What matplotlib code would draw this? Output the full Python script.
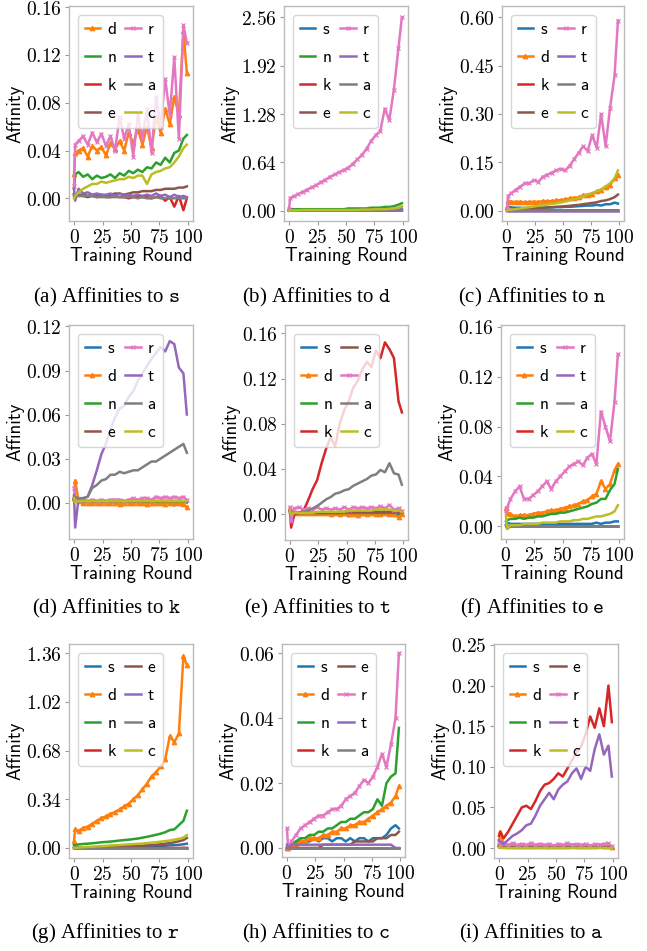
import matplotlib
matplotlib.use("Agg")
import matplotlib.pyplot as plt
from matplotlib.ticker import FixedLocator, FuncFormatter

plt.rcParams["mathtext.fontset"] = "cm"

rounds = [0, 1, 4, 8, 12, 16, 20, 24, 28, 32, 36, 40, 44, 48, 52, 56, 60, 64, 68, 72, 76, 80, 84, 88, 92, 96, 99]

# (a) affinities to s
to_s_d = [0.020, 0.038, 0.040, 0.042, 0.035, 0.044, 0.040, 0.043, 0.036, 0.046, 0.041, 0.048, 0.040, 0.055, 0.046, 0.058, 0.045, 0.060, 0.042, 0.068, 0.055, 0.075, 0.062, 0.085, 0.070, 0.140, 0.105]
to_s_n = [0.008, 0.020, 0.022, 0.018, 0.020, 0.016, 0.019, 0.017, 0.018, 0.020, 0.017, 0.021, 0.019, 0.023, 0.021, 0.024, 0.022, 0.026, 0.025, 0.030, 0.028, 0.034, 0.030, 0.038, 0.040, 0.050, 0.053]
to_s_k = [0.002, 0.003, 0.002, 0.002, 0.001, 0.002, 0.001, 0.002, 0.001, 0.001, 0.002, 0.001, 0.001, 0.000, 0.001, 0.002, 0.001, 0.001, 0.000, 0.001, 0.002, -0.002, 0.001, -0.007, 0.002, -0.010, 0.000]
to_s_e = [0.004, 0.003, 0.003, 0.003, 0.002, 0.003, 0.003, 0.003, 0.002, 0.003, 0.004, 0.004, 0.003, 0.004, 0.005, 0.005, 0.006, 0.006, 0.006, 0.007, 0.007, 0.008, 0.008, 0.008, 0.009, 0.009, 0.010]
to_s_r = [0.010, 0.045, 0.048, 0.052, 0.045, 0.055, 0.047, 0.054, 0.044, 0.052, 0.040, 0.068, 0.050, 0.062, 0.035, 0.070, 0.050, 0.075, 0.038, 0.085, 0.060, 0.100, 0.070, 0.118, 0.050, 0.145, 0.130]
to_s_t = [0.008, -0.002, 0.008, 0.004, 0.005, 0.003, 0.004, 0.003, 0.003, 0.004, 0.002, 0.004, 0.002, 0.003, 0.002, 0.003, 0.002, 0.003, 0.002, 0.004, 0.002, 0.003, 0.001, 0.003, 0.001, 0.002, 0.001]
to_s_a = [0.003, 0.002, 0.002, 0.002, 0.002, 0.002, 0.001, 0.001, 0.001, 0.001, 0.001, 0.001, 0.001, 0.001, 0.001, 0.000, 0.001, 0.000, 0.000, 0.001, 0.000, 0.000, 0.000, 0.000, 0.000, 0.000, 0.000]
to_s_c = [0.000, 0.002, 0.005, 0.008, 0.010, 0.012, 0.012, 0.014, 0.013, 0.014, 0.015, 0.016, 0.016, 0.018, 0.017, 0.019, 0.019, 0.012, 0.020, 0.022, 0.023, 0.025, 0.026, 0.030, 0.035, 0.042, 0.045]

# (b) affinities to d
to_d_s = [0.000, 0.005, 0.005, 0.005, 0.005, 0.005, 0.005, 0.005, 0.005, 0.005, 0.005, 0.005, 0.005, 0.005, 0.005, 0.005, 0.006, 0.006, 0.006, 0.007, 0.007, 0.008, 0.008, 0.009, 0.010, 0.012, 0.015]
to_d_n = [0.010, 0.020, 0.020, 0.020, 0.020, 0.020, 0.020, 0.020, 0.020, 0.020, 0.020, 0.020, 0.020, 0.020, 0.030, 0.030, 0.030, 0.030, 0.030, 0.040, 0.040, 0.040, 0.050, 0.050, 0.060, 0.080, 0.100]
to_d_k = [0.000, 0.001, 0.001, 0.001, 0.001, 0.001, 0.001, 0.001, 0.001, 0.001, 0.001, 0.001, 0.001, 0.001, 0.001, 0.001, 0.001, 0.001, 0.001, 0.001, 0.001, 0.001, 0.001, 0.001, 0.002, 0.002, 0.002]
to_d_e = [0.000, 0.001, 0.001, 0.001, 0.001, 0.001, 0.001, 0.001, 0.001, 0.001, 0.002, 0.002, 0.002, 0.002, 0.002, 0.002, 0.002, 0.003, 0.003, 0.003, 0.003, 0.004, 0.004, 0.005, 0.005, 0.006, 0.008]
to_d_r = [0.020, 0.170, 0.190, 0.220, 0.250, 0.280, 0.310, 0.340, 0.380, 0.410, 0.450, 0.480, 0.510, 0.540, 0.570, 0.620, 0.680, 0.740, 0.820, 0.920, 1.000, 1.050, 1.350, 1.200, 1.600, 2.150, 2.560]
to_d_t = [0.000, 0.000, 0.000, 0.000, 0.000, 0.000, 0.000, 0.000, 0.000, 0.000, 0.000, 0.000, 0.000, 0.000, 0.000, 0.000, 0.000, 0.000, 0.000, 0.000, 0.000, 0.000, 0.000, 0.000, 0.000, 0.001, 0.001]
to_d_a = [0.000, 0.002, 0.002, 0.003, 0.003, 0.003, 0.004, 0.004, 0.004, 0.005, 0.005, 0.005, 0.006, 0.006, 0.007, 0.007, 0.008, 0.009, 0.010, 0.011, 0.012, 0.013, 0.015, 0.017, 0.020, 0.025, 0.030]
to_d_c = [0.000, 0.005, 0.005, 0.005, 0.010, 0.010, 0.010, 0.010, 0.010, 0.010, 0.010, 0.010, 0.010, 0.010, 0.010, 0.010, 0.010, 0.015, 0.015, 0.015, 0.020, 0.020, 0.020, 0.025, 0.030, 0.040, 0.060]

# (c) affinities to n
to_n_s = [0.005, 0.012, 0.010, 0.009, 0.009, 0.008, 0.009, 0.008, 0.009, 0.009, 0.010, 0.010, 0.011, 0.011, 0.012, 0.012, 0.013, 0.014, 0.015, 0.016, 0.016, 0.018, 0.016, 0.020, 0.020, 0.025, 0.022]
to_n_d = [0.010, 0.030, 0.028, 0.027, 0.028, 0.026, 0.027, 0.028, 0.027, 0.030, 0.029, 0.030, 0.032, 0.033, 0.035, 0.038, 0.040, 0.042, 0.048, 0.050, 0.052, 0.060, 0.065, 0.075, 0.080, 0.100, 0.110]
to_n_k = [0.000, 0.001, 0.001, 0.001, 0.001, 0.001, 0.001, 0.001, 0.001, 0.001, 0.001, 0.001, 0.001, 0.001, 0.001, 0.001, 0.001, 0.001, 0.001, 0.001, 0.001, 0.001, 0.001, 0.001, 0.001, 0.001, 0.001]
to_n_e = [0.000, 0.001, 0.002, 0.003, 0.004, 0.005, 0.006, 0.007, 0.008, 0.009, 0.010, 0.011, 0.012, 0.013, 0.014, 0.015, 0.017, 0.018, 0.020, 0.022, 0.024, 0.026, 0.030, 0.032, 0.036, 0.042, 0.050]
to_n_r = [0.005, 0.045, 0.055, 0.065, 0.075, 0.085, 0.085, 0.095, 0.090, 0.105, 0.112, 0.118, 0.125, 0.130, 0.125, 0.140, 0.160, 0.180, 0.200, 0.185, 0.235, 0.195, 0.300, 0.200, 0.320, 0.420, 0.590]
to_n_t = [0.000, 0.000, 0.000, 0.000, 0.000, 0.000, 0.000, 0.000, 0.000, 0.000, 0.000, 0.000, 0.000, 0.000, 0.000, 0.000, 0.000, 0.000, 0.000, 0.000, 0.000, 0.000, 0.000, 0.000, 0.000, 0.000, 0.000]
to_n_a = [0.001, 0.001, 0.001, 0.001, 0.001, 0.001, 0.001, 0.001, 0.001, 0.001, 0.001, 0.001, 0.001, 0.001, 0.001, 0.001, 0.001, 0.001, 0.001, 0.001, 0.001, 0.001, 0.001, 0.001, 0.001, 0.001, 0.001]
to_n_c = [0.000, 0.002, 0.003, 0.005, 0.007, 0.009, 0.011, 0.013, 0.015, 0.017, 0.019, 0.021, 0.023, 0.026, 0.029, 0.032, 0.036, 0.040, 0.045, 0.050, 0.055, 0.060, 0.066, 0.075, 0.085, 0.100, 0.125]

# (d) affinities to k
to_k_s = [0.002, 0.001, 0.001, 0.001, 0.001, 0.001, 0.001, 0.001, 0.001, 0.001, 0.001, 0.001, 0.001, 0.001, 0.001, 0.001, 0.001, -0.001, 0.001, 0.001, -0.001, 0.001, 0.001, -0.002, 0.001, 0.001, 0.000]
to_k_d = [0.003, 0.015, 0.001, 0.000, 0.000, 0.000, 0.000, 0.000, 0.000, 0.000, 0.000, -0.001, 0.000, 0.000, 0.000, 0.000, 0.000, -0.001, 0.000, 0.000, 0.000, -0.001, 0.000, 0.000, 0.000, -0.001, -0.003]
to_k_n = [0.003, 0.001, 0.001, 0.001, 0.001, 0.001, 0.001, 0.001, 0.001, 0.001, 0.001, 0.001, 0.001, 0.001, 0.001, 0.001, 0.001, 0.001, 0.001, 0.001, 0.001, 0.001, 0.001, 0.001, 0.001, 0.001, 0.001]
to_k_e = [0.002, 0.001, 0.001, 0.001, 0.001, 0.001, 0.001, 0.001, 0.001, 0.001, 0.001, 0.001, 0.001, 0.001, 0.001, 0.001, 0.001, 0.001, 0.001, 0.001, 0.001, 0.001, 0.001, 0.001, 0.001, 0.001, 0.001]
to_k_r = [0.010, 0.003, 0.001, 0.002, 0.001, 0.002, 0.001, 0.002, 0.001, 0.002, 0.002, 0.002, 0.001, 0.002, 0.003, 0.002, 0.003, 0.003, 0.002, 0.004, 0.003, 0.004, 0.003, 0.004, 0.003, 0.004, 0.002]
to_k_t = [0.005, -0.017, 0.003, 0.003, 0.004, 0.012, 0.022, 0.033, 0.040, 0.050, 0.058, 0.064, 0.066, 0.072, 0.076, 0.083, 0.088, 0.093, 0.098, 0.102, 0.106, 0.103, 0.110, 0.108, 0.092, 0.088, 0.060]
to_k_a = [0.003, 0.004, 0.003, 0.003, 0.004, 0.010, 0.012, 0.015, 0.016, 0.019, 0.019, 0.021, 0.020, 0.021, 0.022, 0.022, 0.024, 0.026, 0.028, 0.028, 0.030, 0.032, 0.034, 0.036, 0.038, 0.040, 0.034]
to_k_c = [0.003, 0.000, 0.001, 0.001, 0.001, 0.001, 0.001, 0.001, 0.001, 0.001, 0.001, 0.001, 0.001, 0.001, 0.001, 0.001, 0.001, 0.001, 0.001, 0.001, 0.001, 0.001, 0.001, 0.001, 0.001, 0.001, 0.001]

# (e) affinities to t
to_t_s = [0.002, 0.000, 0.000, 0.000, 0.000, 0.000, 0.000, 0.000, 0.000, 0.000, 0.000, 0.000, -0.001, 0.000, -0.002, 0.000, 0.000, -0.001, 0.000, 0.000, 0.000, -0.001, 0.000, 0.000, 0.000, -0.001, 0.000]
to_t_d = [0.005, 0.002, 0.001, 0.001, 0.001, 0.001, 0.001, 0.001, 0.001, 0.001, 0.000, 0.001, 0.000, 0.001, 0.000, 0.000, -0.001, 0.001, 0.000, 0.001, 0.000, 0.000, 0.001, 0.000, 0.000, -0.003, 0.000]
to_t_n = [0.003, 0.001, 0.001, 0.001, 0.001, 0.001, 0.001, 0.001, 0.001, 0.001, 0.001, 0.001, 0.001, 0.001, 0.001, 0.001, 0.001, 0.001, 0.001, 0.001, 0.001, 0.001, 0.001, 0.001, 0.001, 0.001, 0.001]
to_t_k = [0.003, -0.012, 0.000, 0.001, 0.003, 0.012, 0.022, 0.030, 0.045, 0.058, 0.068, 0.060, 0.080, 0.092, 0.100, 0.112, 0.118, 0.128, 0.135, 0.130, 0.145, 0.138, 0.152, 0.146, 0.138, 0.100, 0.090]
to_t_e = [0.002, 0.001, 0.001, 0.001, 0.001, 0.001, 0.001, 0.001, 0.001, 0.001, 0.001, 0.001, 0.001, 0.002, 0.002, 0.002, 0.002, 0.002, 0.002, 0.002, 0.002, 0.002, 0.002, 0.002, 0.002, 0.002, 0.002]
to_t_r = [0.006, -0.006, 0.005, 0.006, 0.004, 0.005, 0.004, 0.006, 0.004, 0.005, 0.004, 0.005, 0.004, 0.006, 0.004, 0.006, 0.005, 0.006, 0.005, 0.006, 0.005, 0.007, 0.005, 0.008, 0.004, 0.005, 0.003]
to_t_a = [0.001, 0.001, 0.001, 0.001, 0.002, 0.003, 0.005, 0.007, 0.010, 0.013, 0.015, 0.018, 0.019, 0.021, 0.022, 0.025, 0.027, 0.029, 0.031, 0.034, 0.035, 0.039, 0.037, 0.045, 0.036, 0.035, 0.026]
to_t_c = [0.002, 0.000, 0.001, 0.001, 0.001, 0.001, 0.001, 0.002, 0.002, 0.002, 0.002, 0.002, 0.002, 0.002, 0.003, 0.003, 0.003, 0.003, 0.003, 0.003, 0.004, 0.004, 0.004, 0.004, 0.003, 0.003, 0.002]

# (f) affinities to e
to_e_s = [0.001, 0.003, 0.002, 0.002, 0.002, 0.002, 0.002, 0.002, 0.002, 0.002, 0.002, 0.002, 0.002, 0.002, 0.002, 0.002, 0.002, 0.002, 0.002, 0.002, 0.002, 0.003, 0.002, 0.003, 0.003, 0.004, 0.004]
to_e_d = [0.015, 0.011, 0.010, 0.008, 0.009, 0.009, 0.009, 0.010, 0.011, 0.011, 0.012, 0.013, 0.013, 0.014, 0.015, 0.016, 0.017, 0.018, 0.020, 0.021, 0.024, 0.026, 0.036, 0.030, 0.034, 0.045, 0.050]
to_e_n = [0.004, 0.005, 0.006, 0.006, 0.007, 0.006, 0.007, 0.007, 0.008, 0.008, 0.009, 0.010, 0.010, 0.011, 0.011, 0.012, 0.013, 0.014, 0.015, 0.016, 0.018, 0.019, 0.022, 0.022, 0.029, 0.034, 0.046]
to_e_k = [0.000, 0.000, 0.000, 0.000, 0.000, 0.000, 0.000, 0.000, 0.000, 0.000, 0.000, 0.000, 0.000, 0.000, 0.000, 0.000, 0.000, 0.000, 0.000, 0.000, 0.000, 0.000, 0.000, 0.000, 0.000, 0.000, 0.000]
to_e_r = [0.012, 0.015, 0.022, 0.028, 0.032, 0.022, 0.022, 0.025, 0.028, 0.032, 0.036, 0.030, 0.036, 0.040, 0.044, 0.048, 0.050, 0.052, 0.049, 0.055, 0.058, 0.050, 0.092, 0.080, 0.068, 0.100, 0.138]
to_e_t = [0.001, -0.002, 0.000, 0.000, 0.000, 0.000, 0.000, 0.000, 0.000, 0.000, 0.000, 0.000, 0.000, 0.000, 0.000, 0.000, 0.000, 0.000, 0.000, 0.000, 0.000, 0.000, 0.000, 0.000, 0.000, 0.000, 0.000]
to_e_a = [0.000, 0.000, 0.000, 0.000, 0.000, 0.000, 0.000, 0.000, 0.000, 0.000, 0.000, 0.000, 0.000, 0.000, 0.000, 0.000, 0.000, 0.000, 0.000, 0.000, 0.000, 0.000, 0.000, 0.000, 0.000, 0.000, 0.000]
to_e_c = [0.008, -0.002, 0.001, 0.001, 0.001, 0.002, 0.002, 0.002, 0.002, 0.003, 0.003, 0.003, 0.003, 0.004, 0.004, 0.004, 0.005, 0.005, 0.006, 0.006, 0.007, 0.008, 0.008, 0.009, 0.010, 0.012, 0.017]

# (g) affinities to r
to_r_s = [0.000, 0.002, 0.002, 0.003, 0.003, 0.004, 0.004, 0.005, 0.005, 0.006, 0.006, 0.007, 0.007, 0.008, 0.008, 0.009, 0.010, 0.011, 0.012, 0.013, 0.014, 0.016, 0.018, 0.020, 0.022, 0.026, 0.030]
to_r_d = [0.050, 0.130, 0.120, 0.140, 0.150, 0.170, 0.190, 0.210, 0.220, 0.240, 0.250, 0.270, 0.290, 0.310, 0.340, 0.370, 0.410, 0.450, 0.500, 0.530, 0.570, 0.620, 0.780, 0.740, 0.800, 1.340, 1.280]
to_r_n = [0.020, 0.020, 0.025, 0.028, 0.030, 0.033, 0.036, 0.040, 0.042, 0.045, 0.048, 0.052, 0.055, 0.058, 0.062, 0.066, 0.072, 0.078, 0.085, 0.092, 0.100, 0.110, 0.125, 0.130, 0.160, 0.190, 0.260]
to_r_k = [0.000, 0.000, 0.000, 0.000, 0.000, 0.000, 0.000, 0.000, 0.000, 0.000, 0.000, 0.000, 0.000, 0.000, 0.000, 0.000, 0.000, 0.000, 0.000, 0.000, 0.000, 0.000, 0.000, 0.000, 0.000, 0.001, 0.001]
to_r_e = [0.000, 0.001, 0.002, 0.003, 0.004, 0.005, 0.006, 0.007, 0.008, 0.009, 0.010, 0.011, 0.012, 0.013, 0.014, 0.015, 0.017, 0.019, 0.021, 0.023, 0.026, 0.030, 0.034, 0.040, 0.047, 0.055, 0.070]
to_r_t = [0.000, 0.000, 0.000, 0.000, 0.000, 0.000, 0.000, 0.000, 0.000, 0.000, 0.000, 0.000, 0.000, 0.000, 0.000, 0.000, 0.000, 0.000, 0.000, 0.000, 0.000, 0.000, 0.000, 0.000, 0.000, 0.000, 0.000]
to_r_a = [0.000, 0.000, 0.000, 0.000, 0.000, 0.000, 0.000, 0.000, 0.000, 0.000, 0.000, 0.000, 0.000, 0.000, 0.000, 0.000, 0.000, 0.000, 0.000, 0.000, 0.000, 0.000, 0.000, 0.000, 0.000, 0.000, 0.000]
to_r_c = [0.000, 0.002, 0.003, 0.005, 0.007, 0.009, 0.011, 0.013, 0.015, 0.017, 0.019, 0.021, 0.023, 0.025, 0.027, 0.029, 0.031, 0.034, 0.037, 0.040, 0.044, 0.048, 0.052, 0.058, 0.064, 0.072, 0.090]

# (h) affinities to c
to_c_s = [0.000, 0.000, 0.001, 0.002, 0.002, 0.002, 0.002, 0.003, 0.002, 0.003, 0.003, 0.002, 0.003, 0.003, 0.002, 0.003, 0.002, 0.003, 0.003, 0.002, 0.003, 0.003, 0.003, 0.004, 0.006, 0.007, 0.006]
to_c_d = [0.000, 0.000, 0.001, 0.001, 0.002, 0.002, 0.003, 0.003, 0.003, 0.004, 0.004, 0.005, 0.005, 0.006, 0.006, 0.007, 0.007, 0.008, 0.008, 0.009, 0.010, 0.011, 0.012, 0.013, 0.014, 0.016, 0.019]
to_c_n = [0.000, 0.000, 0.001, 0.002, 0.003, 0.003, 0.004, 0.004, 0.005, 0.005, 0.006, 0.006, 0.007, 0.008, 0.008, 0.009, 0.009, 0.010, 0.011, 0.011, 0.012, 0.015, 0.013, 0.020, 0.022, 0.023, 0.037]
to_c_k = [0.000, 0.000, 0.000, 0.000, 0.000, 0.000, 0.000, 0.000, 0.000, 0.000, 0.000, 0.000, 0.000, 0.000, 0.000, 0.000, 0.000, 0.000, 0.000, 0.000, 0.000, 0.000, 0.000, 0.000, 0.000, 0.000, 0.000]
to_c_e = [0.000, 0.000, 0.000, 0.000, 0.000, 0.000, 0.000, 0.000, 0.000, 0.001, 0.001, 0.001, 0.001, 0.001, 0.001, 0.001, 0.002, 0.002, 0.002, 0.002, 0.002, 0.003, 0.003, 0.003, 0.004, 0.004, 0.005]
to_c_r = [0.006, 0.000, 0.002, 0.004, 0.006, 0.007, 0.008, 0.009, 0.010, 0.010, 0.011, 0.012, 0.012, 0.013, 0.015, 0.016, 0.017, 0.019, 0.021, 0.020, 0.022, 0.025, 0.029, 0.025, 0.032, 0.040, 0.060]
to_c_t = [0.001, 0.000, 0.001, 0.001, 0.001, 0.001, 0.001, 0.001, 0.001, 0.001, 0.001, 0.001, 0.001, 0.001, 0.001, 0.001, 0.001, 0.001, 0.001, 0.001, 0.001, 0.001, 0.001, 0.001, 0.001, 0.000, 0.000]
to_c_a = [0.000, 0.000, 0.000, 0.000, 0.000, 0.000, 0.000, 0.000, 0.000, 0.000, 0.000, 0.000, 0.000, 0.000, 0.000, 0.000, 0.000, 0.000, 0.000, 0.000, 0.000, 0.000, 0.000, 0.000, 0.000, 0.000, 0.000]

# (i) affinities to a
to_a_s = [0.002, 0.002, 0.002, 0.001, 0.002, 0.002, 0.001, 0.002, 0.002, 0.001, 0.002, 0.002, 0.000, 0.002, 0.002, 0.002, 0.002, 0.000, 0.002, 0.002, 0.000, 0.002, 0.002, 0.002, 0.002, 0.001, 0.001]
to_a_d = [0.005, 0.020, 0.005, 0.003, 0.002, 0.002, 0.003, 0.002, 0.002, 0.003, 0.002, 0.003, 0.002, 0.003, 0.002, 0.003, 0.002, 0.004, 0.003, 0.003, 0.002, 0.003, 0.002, 0.004, 0.002, 0.003, 0.001]
to_a_n = [0.002, 0.001, 0.001, 0.001, 0.001, 0.001, 0.001, 0.001, 0.001, 0.001, 0.001, 0.001, 0.001, 0.001, 0.001, 0.001, 0.001, 0.001, 0.001, 0.001, 0.001, 0.001, 0.001, 0.001, 0.001, 0.001, 0.001]
to_a_k = [0.015, 0.020, 0.012, 0.020, 0.030, 0.040, 0.050, 0.052, 0.048, 0.058, 0.070, 0.078, 0.080, 0.085, 0.092, 0.088, 0.098, 0.108, 0.118, 0.125, 0.140, 0.162, 0.148, 0.172, 0.150, 0.200, 0.155]
to_a_e = [0.001, 0.001, 0.001, 0.001, 0.001, 0.001, 0.001, 0.001, 0.001, 0.001, 0.001, 0.001, 0.001, 0.001, 0.001, 0.001, 0.001, 0.001, 0.001, 0.001, 0.001, 0.001, 0.001, 0.001, 0.001, 0.001, 0.001]
to_a_r = [0.008, 0.004, 0.006, 0.004, 0.006, 0.004, 0.005, 0.004, 0.006, 0.004, 0.005, 0.004, 0.005, 0.003, 0.005, 0.004, 0.006, 0.004, 0.005, 0.004, 0.005, 0.003, 0.005, 0.004, 0.005, 0.006, 0.002]
to_a_t = [0.010, 0.008, 0.005, 0.010, 0.015, 0.018, 0.022, 0.028, 0.030, 0.040, 0.052, 0.060, 0.068, 0.060, 0.072, 0.078, 0.082, 0.092, 0.098, 0.085, 0.100, 0.095, 0.122, 0.140, 0.115, 0.126, 0.088]
to_a_c = [0.001, 0.000, 0.000, 0.000, 0.000, 0.000, 0.000, 0.000, 0.000, 0.000, 0.000, 0.000, 0.000, 0.000, 0.000, 0.000, 0.000, 0.000, 0.000, 0.000, 0.000, 0.000, 0.000, 0.000, 0.000, 0.000, 0.000]

letters = ["s", "d", "n", "k", "e", "r", "t", "a", "c"]
colors = {"s": "C0", "d": "C1", "n": "C2", "k": "C3", "e": "C5",
          "r": "C6", "t": "C4", "a": "C7", "c": "C8"}
markers = {"d": "^", "r": "x"}

panels = [
    ("a", "s", {"d": to_s_d, "n": to_s_n, "k": to_s_k, "e": to_s_e, "r": to_s_r, "t": to_s_t, "a": to_s_a, "c": to_s_c},
     [0, 0.04, 0.08, 0.12, 0.16], (-0.019, 0.161)),
    ("b", "d", {"s": to_d_s, "n": to_d_n, "k": to_d_k, "e": to_d_e, "r": to_d_r, "t": to_d_t, "a": to_d_a, "c": to_d_c},
     [0, 0.64, 1.28, 1.92, 2.56], (-0.136, 2.71)),
    ("c", "n", {"s": to_n_s, "d": to_n_d, "k": to_n_k, "e": to_n_e, "r": to_n_r, "t": to_n_t, "a": to_n_a, "c": to_n_c},
     [0, 0.15, 0.30, 0.45, 0.60], (-0.032, 0.635)),
    ("d", "k", {"s": to_k_s, "d": to_k_d, "n": to_k_n, "e": to_k_e, "r": to_k_r, "t": to_k_t, "a": to_k_a, "c": to_k_c},
     [0, 0.03, 0.06, 0.09, 0.12], (-0.0248, 0.121)),
    ("e", "t", {"s": to_t_s, "d": to_t_d, "n": to_t_n, "k": to_t_k, "e": to_t_e, "r": to_t_r, "a": to_t_a, "c": to_t_c},
     [0, 0.04, 0.08, 0.12, 0.16], (-0.023, 0.1674)),
    ("f", "e", {"s": to_e_s, "d": to_e_d, "n": to_e_n, "k": to_e_k, "r": to_e_r, "t": to_e_t, "a": to_e_a, "c": to_e_c},
     [0, 0.04, 0.08, 0.12, 0.16], (-0.0101, 0.1613)),
    ("g", "r", {"s": to_r_s, "d": to_r_d, "n": to_r_n, "k": to_r_k, "e": to_r_e, "t": to_r_t, "a": to_r_a, "c": to_r_c},
     [0, 0.34, 0.68, 1.02, 1.36], (-0.07, 1.425)),
    ("h", "c", {"s": to_c_s, "d": to_c_d, "n": to_c_n, "k": to_c_k, "e": to_c_e, "r": to_c_r, "t": to_c_t, "a": to_c_a},
     [0, 0.02, 0.04, 0.06], (-0.0028, 0.0629)),
    ("i", "a", {"s": to_a_s, "d": to_a_d, "n": to_a_n, "k": to_a_k, "e": to_a_e, "r": to_a_r, "t": to_a_t, "c": to_a_c},
     [0, 0.05, 0.10, 0.15, 0.20, 0.25], (-0.0123, 0.2512)),
]

# axes boxes in pixels (left, top, right, bottom) and caption centres
W, H = 647, 951
boxes = [(69, 6, 193, 221), (284, 6, 408, 221), (502, 6, 624, 221),
         (69, 325, 193, 539), (285, 325, 408, 540), (501, 325, 624, 539),
         (69, 644, 193, 858), (282, 644, 405, 857), (494, 644, 618, 858)]
captions = [(106, 297), (317, 297), (532, 297),
            (106, 608), (317, 608), (532, 608),
            (105, 933), (316, 933), (531, 933)]

fig = plt.figure(figsize=(W / 100, H / 100), dpi=100)

for (tag, target, series, yt, ylim), (x0, y0, x1, y1), (cx, cy) in zip(panels, boxes, captions):
    ax = fig.add_axes([x0 / W, 1 - y1 / H, (x1 - x0) / W, (y1 - y0) / H])
    for name in letters:
        if name not in series:
            continue
        ax.plot(rounds, series[name], color=colors[name], lw=1.8,
                marker=markers.get(name, None), ms=3.2, mew=0.9, label=name)
    ax.set_xlim(-4.4, 104.4)
    ax.set_ylim(*ylim)
    ax.xaxis.set_major_locator(FixedLocator([0, 25, 50, 75, 100]))
    ax.yaxis.set_major_locator(FixedLocator(yt))
    ax.xaxis.set_major_formatter(FuncFormatter(lambda v, p: f"${v:.0f}$"))
    ax.yaxis.set_major_formatter(FuncFormatter(lambda v, p: f"${v:.2f}$"))
    ax.tick_params(labelsize=14, length=3, width=0.8, color="#999999", pad=2)
    for sp in ax.spines.values():
        sp.set_color("#bbbbbb")
        sp.set_linewidth(1.0)
    ax.set_xlabel("Training Round", family="cmss10", fontsize=13.5, labelpad=0)
    ax.set_ylabel("Affinity", family="cmss10", fontsize=13.5, labelpad=1)
    ax.legend(ncol=2, loc="upper left", prop={"family": "cmss10", "size": 12.5},
              labelspacing=0.75, handlelength=0.9, handletextpad=0.4,
              columnspacing=0.5, borderpad=0.4, borderaxespad=0.5)
    fig.text(cx / W, 1 - cy / H, f"({tag}) Affinities to $\\mathtt{{{target}}}$",
             family="Liberation Serif", fontsize=15, ha="center", va="center")

fig.savefig("out.png", dpi=100)
